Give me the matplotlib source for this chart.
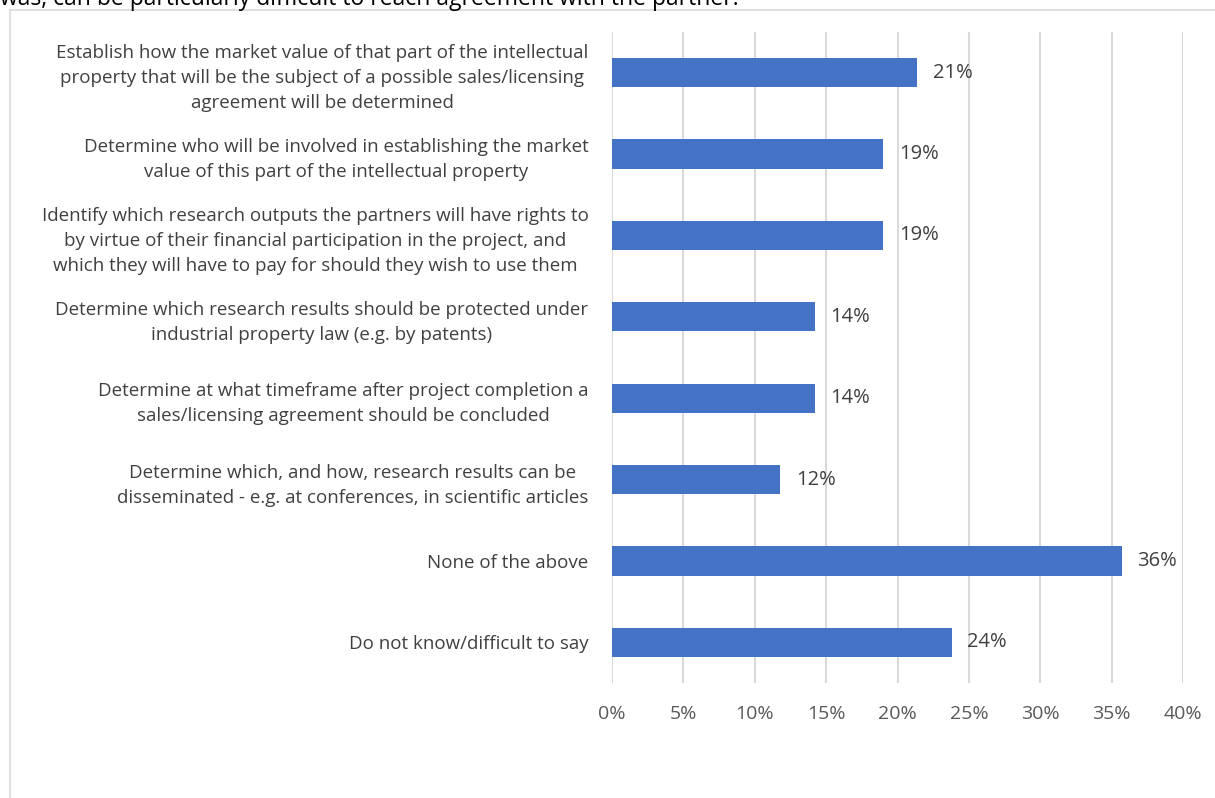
import matplotlib.pyplot as plt
from matplotlib.patches import Rectangle

# Survey answers, top to bottom
labels = [
    'Establish how the market value of that part of the intellectual\n'
    'property that will be the subject of a possible sales/licensing\n'
    'agreement will be determined',
    'Determine who will be involved in establishing the market\n'
    'value of this part of the intellectual property',
    'Identify which research outputs the partners will have rights to\n'
    'by virtue of their financial participation in the project, and\n'
    'which they will have to pay for should they wish to use them',
    'Determine which research results should be protected under\n'
    'industrial property law (e.g. by patents)',
    'Determine at what timeframe after project completion a\n'
    'sales/licensing agreement should be concluded',
    'Determine which, and how, research results can be\n'
    'disseminated - e.g. at conferences, in scientific articles',
    'None of the above',
    'Do not know/difficult to say',
]
shares = [21.4, 19.0, 19.0, 14.2, 14.2, 11.8, 35.7, 23.8]
ticks = [0, 5, 10, 15, 20, 25, 30, 35, 40]

plt.rcParams['font.family'] = ['Open Sans', 'DejaVu Sans']

W, H = 1215, 798
fig = plt.figure(figsize=(W / 100, H / 100), dpi=100)

# chart frame and the cut-off question line above it
fig.patches.append(Rectangle((10 / W, -0.1), 1.2, 1 - 10 / H + 0.1,
                             transform=fig.transFigure, fill=False,
                             edgecolor='#d9d9d9', linewidth=1.2))
fig.text(0, 1 - 5 / H, 'was, can be particularly difficult to reach agreement with the partner.',
         fontsize=16.5, color='black', va='baseline', ha='left')

ax = fig.add_axes([612 / W, 1 - 683 / H, (1183 - 612) / W, (683 - 32) / H])
y = list(range(len(labels)))
bars = ax.barh(y, shares, height=0.36, color='#4472c4', zorder=3)
for b, v in zip(bars, shares):
    ax.text(v + 1.1, b.get_y() + b.get_height() / 2, f'{v:.0f}%',
            va='center', ha='left', fontsize=14.5, color='#404040')

ax.set_xlim(0, 40)
ax.set_ylim(len(labels) - 0.5, -0.5)
ax.set_xticks(ticks)
ax.set_xticklabels([f'{t}%' for t in ticks])
ax.set_yticks(y)
ax.set_yticklabels(labels, multialignment='center', linespacing=1.5)
ax.tick_params(axis='y', length=0, pad=17, labelsize=13.5, labelcolor='#404040')
ax.tick_params(axis='x', length=0, pad=16, labelsize=14, labelcolor='#595959')
ax.grid(axis='x', color='#d9d9d9', linewidth=1.5, zorder=0)
for s in ax.spines.values():
    s.set_visible(False)

fig.savefig('out.png', dpi=100)
